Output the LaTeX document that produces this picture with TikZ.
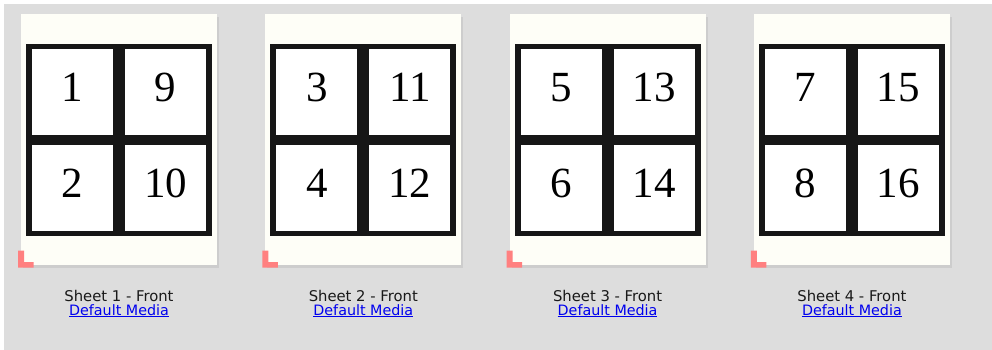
\documentclass[tikz,border=0pt]{standalone}
\usepackage{xcolor}
\usepackage{fontspec}
\setmainfont{Liberation Serif}
\newfontfamily\uifont{DejaVu Sans}
\usepackage{tikz}
\usetikzlibrary{positioning}
\definecolor{panel}{HTML}{DDDDDD}
\definecolor{cream}{HTML}{FEFEF7}
\definecolor{dropshade}{HTML}{CDCDCD}
\definecolor{ink}{HTML}{161616}
\definecolor{cornerred}{HTML}{FF8080}
\definecolor{linkblue}{HTML}{0000EE}

\begin{document}
\begin{tikzpicture}[x=1pt,y=-1pt,
  every node/.style={inner sep=0pt, outer sep=0pt},
  shadowbox/.style={fill=dropshade, minimum width=196pt, minimum height=251pt},
  paper/.style={fill=cream, minimum width=196pt, minimum height=251pt},
  frame/.style={fill=ink, minimum width=186pt, minimum height=192pt},
  cell/.style={fill=white, minimum width=81pt, minimum height=86pt},
  num/.style={anchor=base, font=\fontsize{43}{43}\selectfont},
  caption/.style={anchor=base, font=\uifont\fontsize{14.8}{14.8}\selectfont, text=black!90},
  link/.style={anchor=base, font=\uifont\fontsize{14.3}{14.3}\selectfont, text=linkblue},
]
  % Window background
  \useasboundingbox (0,0) rectangle (992,350);
  \fill[white] (0,0) rectangle (992,350);
  \fill[panel] (4,4) rectangle (992,350);

  % Sheets
  \foreach \n/\a/\b/\c/\d [evaluate=\n as \x using {21+(\n-1)*244.3}]
      in {1/1/9/2/10, 2/3/11/4/12, 3/5/13/6/14, 4/7/15/8/16} {
    \node[shadowbox] (sh\n) at (\x+100,142.5) {};
    \node[paper] (paper\n) at (\x+98,139.5) {};
    \node[frame] (frame\n) at (\x+98,140) {};
    \node[cell] (tl\n) at (\x+51.5,92) {};
    \node[cell] (tr\n) at (\x+144.5,92) {};
    \node[cell] (bl\n) at (\x+51.5,188) {};
    \node[cell] (br\n) at (\x+144.5,188) {};
    \node[num] (ntl\n) at (\x+51.5,102) {\a};
    \node[num] (ntr\n) at (\x+144.5,102) {\b};
    \node[num] (nbl\n) at (\x+51.5,197.5) {\c};
    \node[num] (nbr\n) at (\x+144.5,197.5) {\d};
    % corner mark
    \fill[cornerred] (\x-3,250.5) -- (\x+3,250.5) -- (\x+3,262) -- (\x+12.5,262)
      -- (\x+12.5,267.5) -- (\x-3,267.5) -- cycle;
    \node[caption] (cap\n) at (\x+98,301) {Sheet \n\ - Front};
    \node[link] (media\n) at (\x+98,315) {\underline{Default Media}};
  }
\end{tikzpicture}
\end{document}
